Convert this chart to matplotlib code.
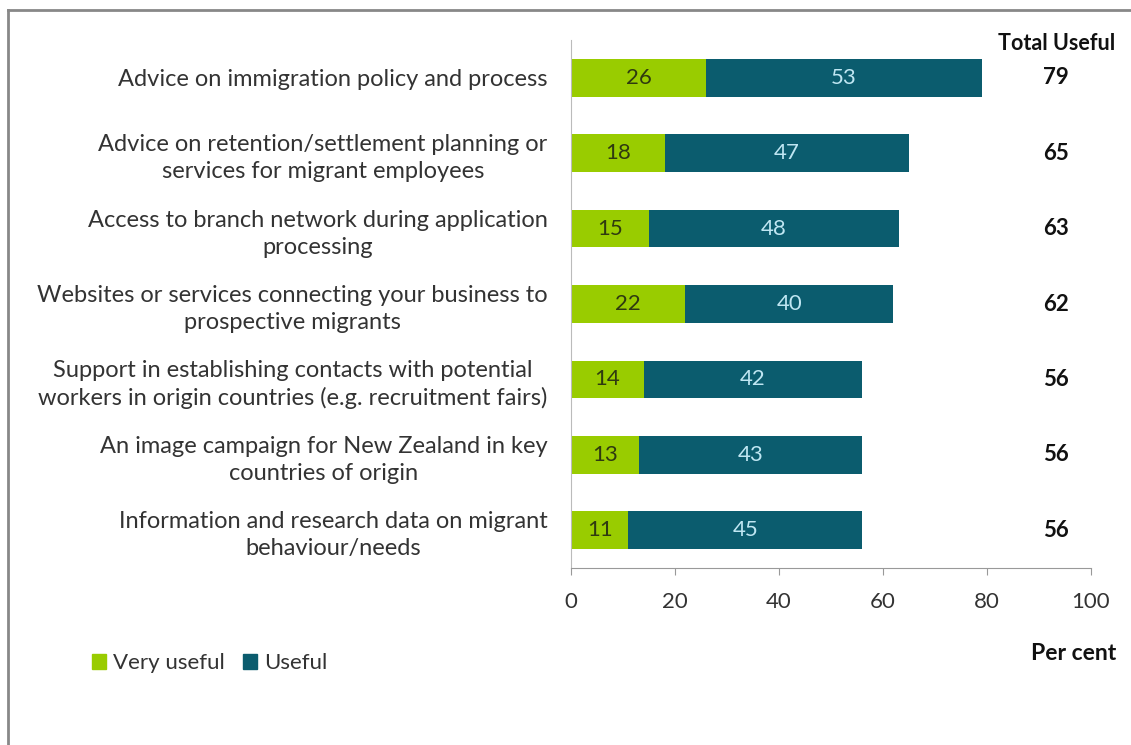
import numpy as np
import matplotlib.pyplot as plt
from matplotlib.lines import Line2D
from matplotlib.patches import Patch
import matplotlib.transforms as mtransforms

plt.rcParams['font.family'] = ['Lato', 'DejaVu Sans']

categories = [
    "Advice on immigration policy and process",
    "Advice on retention/settlement planning or\nservices for migrant employees",
    "Access to branch network during application\nprocessing",
    "Websites or services connecting your business to\nprospective migrants",
    "Support in establishing contacts with potential\nworkers in origin countries (e.g. recruitment fairs)",
    "An image campaign for New Zealand in key\ncountries of origin",
    "Information and research data on migrant\nbehaviour/needs",
]
very_useful = [26, 18, 15, 22, 14, 13, 11]
useful = [53, 47, 48, 40, 42, 43, 45]
total_useful = [79, 65, 63, 62, 56, 56, 56]

green = "#99CC00"
teal = "#0B5C6E"
text_col = "#333333"

fig = plt.figure(figsize=(11.31, 7.45), dpi=100)
ax = fig.add_axes([571 / 1131, 1 - 568 / 745, 520 / 1131, 528 / 745])

y = np.arange(len(categories))
ax.barh(y, very_useful, height=0.5, color=green, label="Very useful")
ax.barh(y, useful, left=very_useful, height=0.5, color=teal, label="Useful")

for i in range(len(categories)):
    ax.text(very_useful[i] / 2, y[i], str(very_useful[i]), ha="center", va="center",
            fontsize=16, color="#2F3A10")
    ax.text(very_useful[i] + useful[i] / 2, y[i], str(useful[i]), ha="center", va="center",
            fontsize=16, color="#BFE6F2")

ax.set_xlim(0, 100)
ax.set_ylim(len(categories) - 0.5, -0.5)
ax.set_xticks([0, 20, 40, 60, 80, 100])
ax.set_yticks(y)
ax.set_yticklabels(categories, fontsize=17, color=text_col, linespacing=1.35)
for lbl in ax.get_yticklabels():
    lbl.set_multialignment("center")
ax.tick_params(axis="y", length=0, pad=17)
ax.tick_params(axis="x", length=5, color="#999999", labelsize=16, labelcolor=text_col, pad=12)
for s in ["top", "right"]:
    ax.spines[s].set_visible(False)
ax.spines["left"].set_color("#BBBBBB")
ax.spines["bottom"].set_color("#999999")

# total column
trans = mtransforms.blended_transform_factory(fig.transFigure, ax.transData)
for i, t in enumerate(total_useful):
    ax.text(1056 / 1131, y[i], str(t), transform=trans, ha="center", va="center",
            fontsize=16, fontweight="bold", color="#111111")
fig.text(1057 / 1131, 1 - 44 / 745, "Total Useful", ha="center", va="center",
         fontsize=15.5, fontweight="bold", color="#111111")
fig.text(1074 / 1131, 1 - 653 / 745, "Per cent", ha="center", va="center",
         fontsize=16.5, fontweight="bold", color="#111111")

handles = [Patch(color=green, label="Very useful"), Patch(color=teal, label="Useful")]
fig.legend(handles=handles, loc="center left", bbox_to_anchor=(72 / 1131, 1 - 663 / 745),
           ncol=2, frameon=False, fontsize=16, handlelength=0.65, handleheight=0.65,
           handletextpad=0.3, columnspacing=0.8, labelcolor=text_col)

# outer frame (left and top edges visible)
fig.add_artist(Line2D([8 / 1131, 8 / 1131], [0, 1 - 10 / 745], transform=fig.transFigure,
                      color="#888888", lw=2))
fig.add_artist(Line2D([8 / 1131, 1], [1 - 10 / 745, 1 - 10 / 745], transform=fig.transFigure,
                      color="#888888", lw=2))

fig.savefig("out.png", dpi=100)
